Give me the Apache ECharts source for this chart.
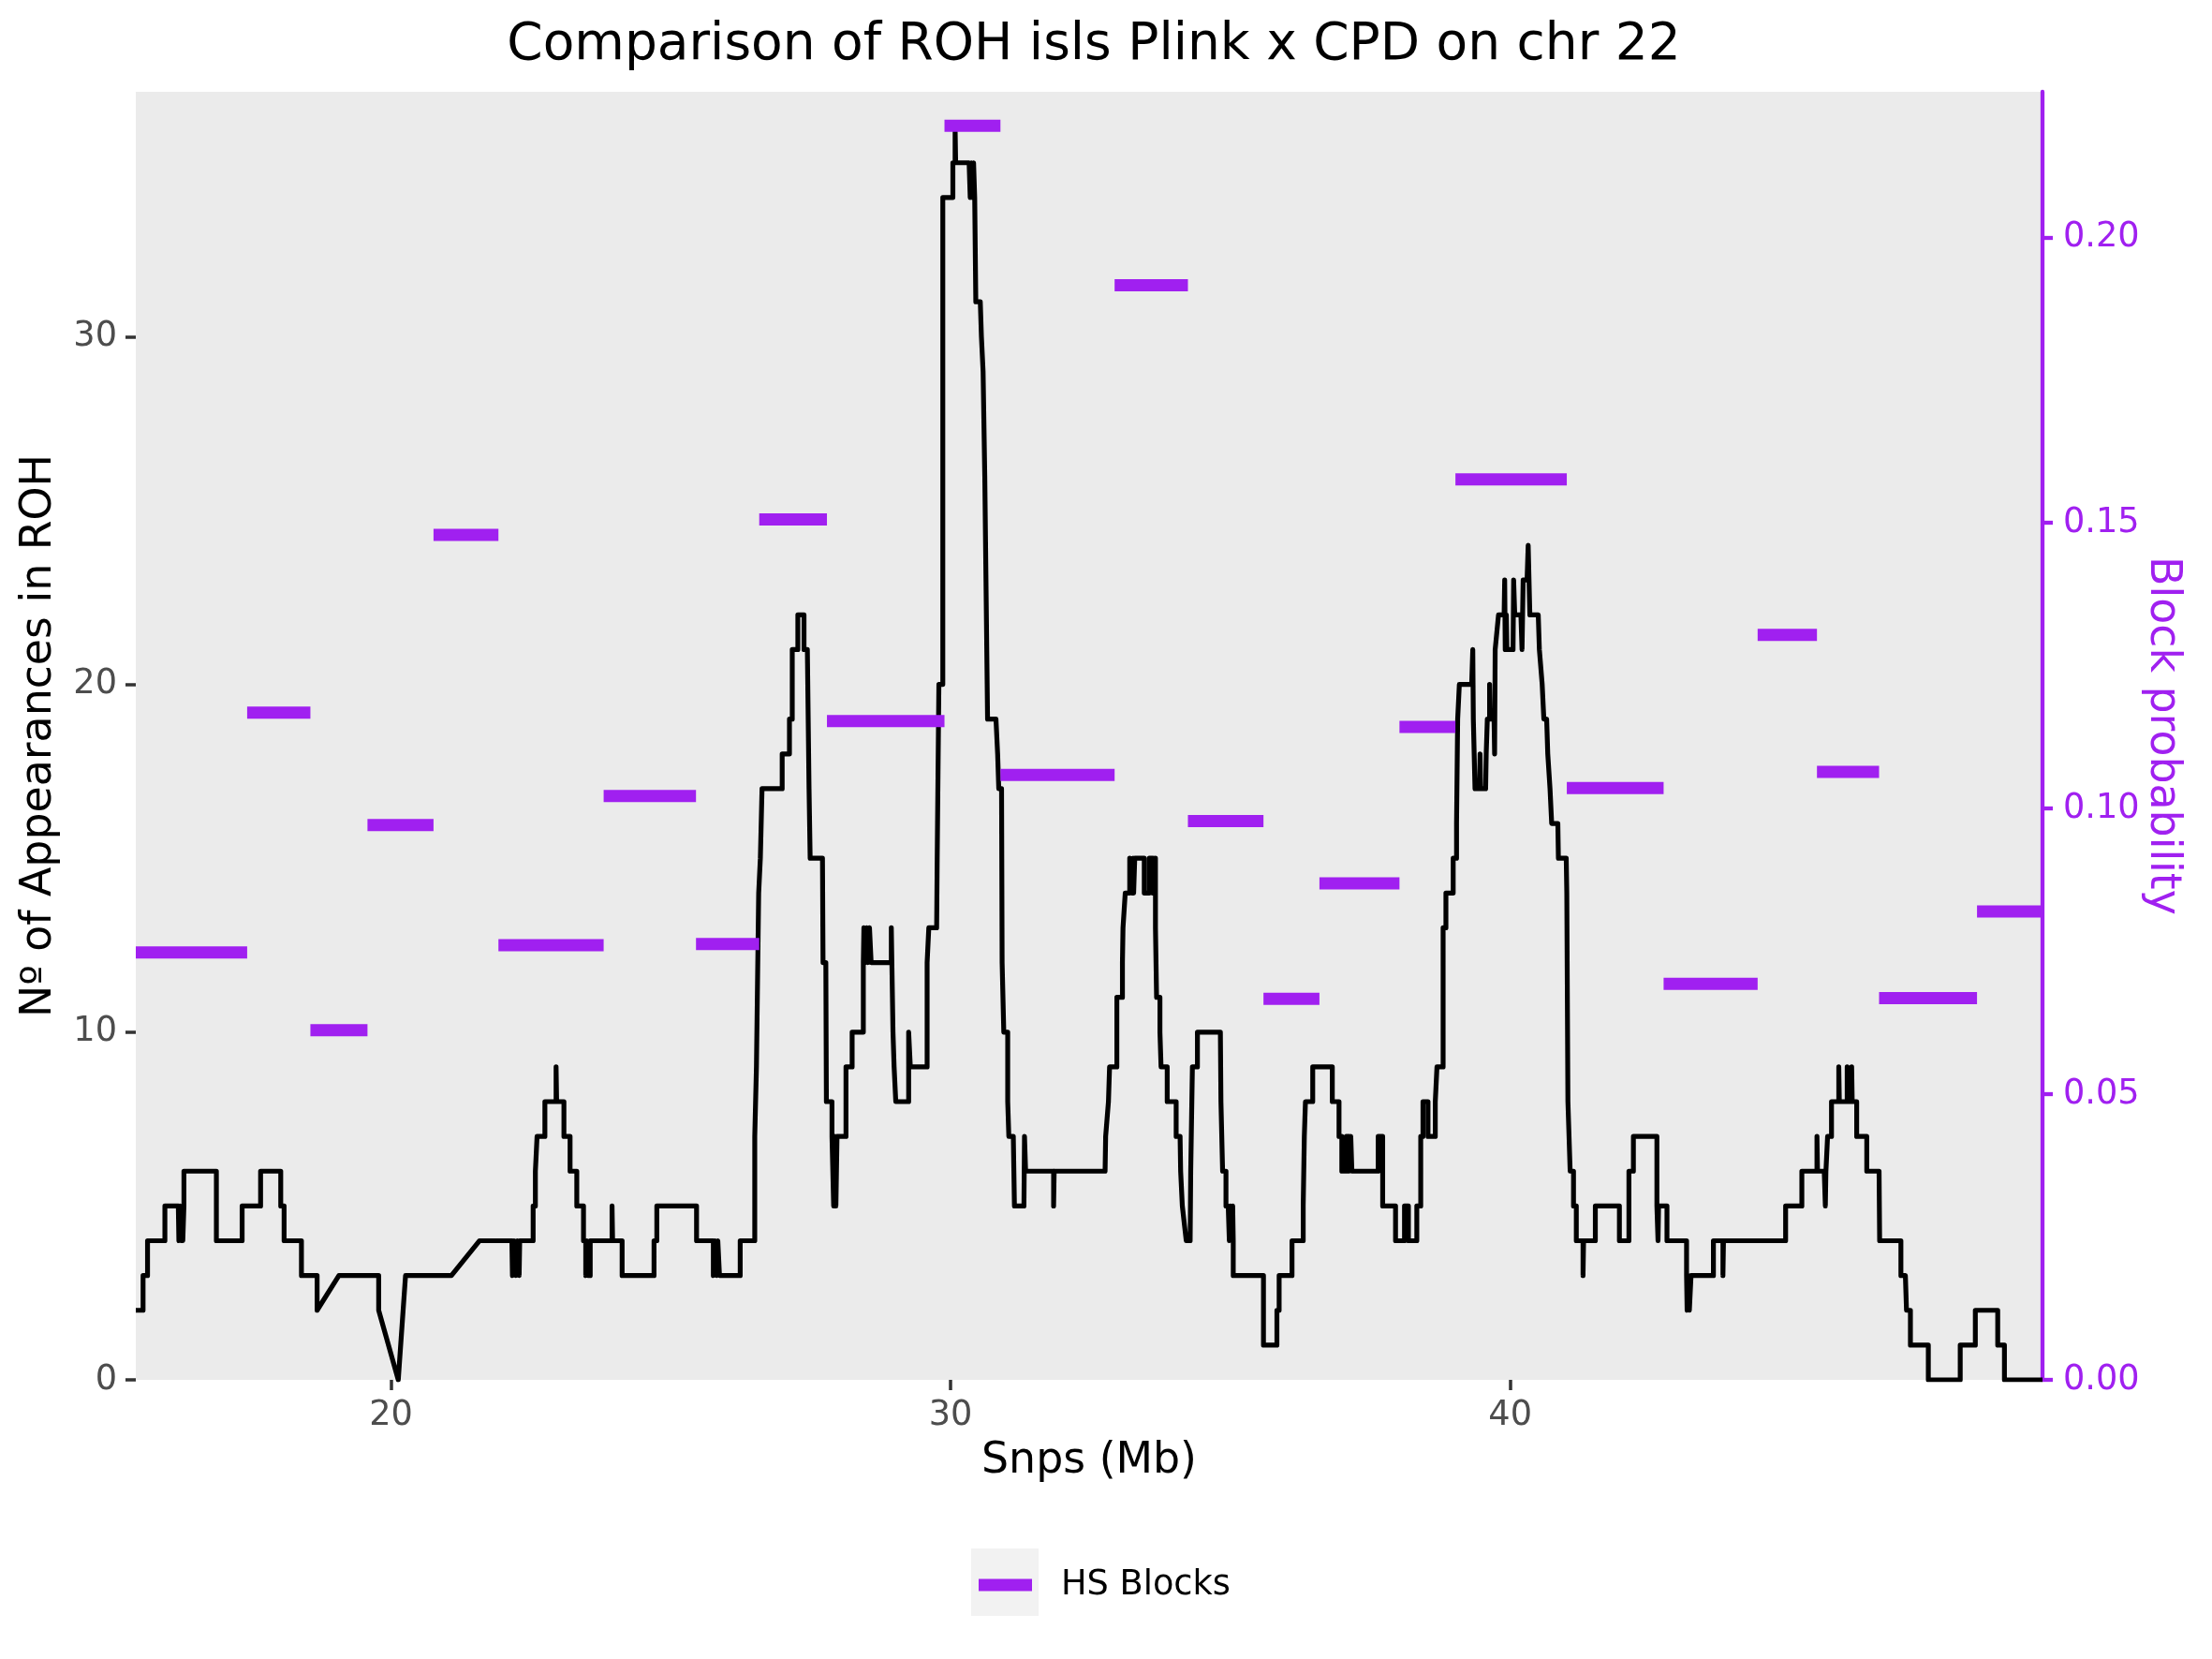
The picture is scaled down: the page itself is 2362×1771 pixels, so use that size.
<!DOCTYPE html>
<html lang="en">
<head>
<meta charset="UTF-8">
<title>Comparison of ROH isls Plink x CPD on chr 22</title>
<script src="https://cdn.jsdelivr.net/npm/echarts@6/dist/echarts.min.js"></script>
<style>
  * { margin: 0; padding: 0; }
  body { background: #fff; }
  #chart { width: 2362px; height: 1771px; }
</style>
</head>
<body>
<div id="chart"></div>
<script>
// ROH counts along chr 22: [position (Mb), number of individuals]
var roh_points = [
  [15.44,2],[15.57,2],[15.57,3],[15.65,3],[15.65,4],[15.96,4],[15.96,5],[16.20,5],[16.21,4],[16.23,5],
  [16.25,4],[16.27,5],[16.28,4],[16.30,5],[16.30,6],[16.88,6],[16.88,4],[17.34,4],[17.34,5],[17.67,5],
  [17.67,6],[18.03,6],[18.03,5],[18.09,5],[18.09,4],[18.40,4],[18.40,3],[18.68,3],[18.68,2],[19.07,3],
  [19.78,3],[19.78,2],[20.13,0],[20.26,3],[21.08,3],[21.58,4],[22.16,4],[22.17,3],[22.20,4],[22.23,3],
  [22.26,4],[22.29,3],[22.30,4],[22.54,4],[22.54,5],[22.58,5],[22.58,6],[22.61,6],[22.61,7],[22.75,7],
  [22.75,8],[22.95,8],[22.95,9],[22.96,8],[23.09,8],[23.09,7],[23.20,7],[23.20,6],[23.32,6],[23.32,5],
  [23.44,5],[23.44,4],[23.48,4],[23.48,3],[23.50,4],[23.52,3],[23.56,3],[23.56,4],[23.95,4],[23.95,5],
  [23.96,4],[24.13,4],[24.13,3],[24.70,3],[24.70,4],[24.75,4],[24.75,5],[25.46,5],[25.46,4],[25.76,4],
  [25.76,3],[25.79,4],[25.82,3],[25.84,4],[25.87,3],[26.24,3],[26.24,4],[26.50,4],[26.50,7],[26.53,9],
  [26.57,14],[26.60,15],[26.63,17],[26.99,17],[26.99,18],[27.12,18],[27.12,19],[27.17,19],[27.17,21],[27.27,21],
  [27.27,22],[27.38,22],[27.38,21],[27.44,21],[27.47,17],[27.49,15],[27.71,15],[27.72,12],[27.77,12],[27.78,8],
  [27.88,8],[27.88,7],[27.91,7],[27.91,5],[27.93,7],[27.95,5],[27.97,7],[28.13,7],[28.13,9],[28.24,9],
  [28.24,10],[28.44,10],[28.44,12],[28.45,13],[28.48,12],[28.50,13],[28.52,12],[28.55,13],[28.58,12],[28.94,12],
  [28.94,13],[28.95,12],[28.97,10],[28.99,9],[29.02,8],[29.25,8],[29.25,10],[29.28,9],[29.58,9],[29.58,12],
  [29.61,13],[29.75,13],[29.76,15],[29.79,20],[29.86,20],[29.86,34],[30.04,34],[30.04,35],[30.08,35],[30.08,36],
  [30.09,35],[30.33,35],[30.35,34],[30.37,35],[30.39,34],[30.41,35],[30.43,34],[30.45,34],[30.45,31],[30.53,31],
  [30.55,30],[30.58,29],[30.61,26],[30.66,19],[30.81,19],[30.84,18],[30.86,17],[30.91,17],[30.92,12],[30.95,10],
  [31.02,10],[31.02,8],[31.04,7],[31.12,7],[31.13,6],[31.14,5],[31.31,5],[31.32,7],[31.34,6],[31.84,6],
  [31.84,5],[31.85,6],[32.76,6],[32.77,7],[32.82,8],[32.84,9],[32.97,9],[32.97,11],[33.07,11],[33.07,12],
  [33.08,13],[33.12,14],[33.20,14],[33.20,15],[33.24,14],[33.26,15],[33.27,14],[33.29,15],[33.46,15],[33.46,14],
  [33.55,14],[33.55,15],[33.61,15],[33.61,14],[33.63,15],[33.65,14],[33.66,15],[33.66,13],[33.68,11],[33.74,11],
  [33.74,10],[33.76,9],[33.87,9],[33.87,8],[34.03,8],[34.03,7],[34.10,7],[34.11,6],[34.14,5],[34.21,4],
  [34.28,4],[34.29,6],[34.32,9],[34.41,9],[34.41,10],[34.82,10],[34.83,8],[34.86,6],[34.92,6],[34.92,5],
  [34.96,5],[34.98,4],[35.00,5],[35.02,4],[35.04,5],[35.05,4],[35.05,3],[35.59,3],[35.59,1],[35.83,1],
  [35.83,2],[35.87,2],[35.87,3],[36.10,3],[36.10,4],[36.30,4],[36.30,5],[36.32,7],[36.34,8],[36.47,8],
  [36.47,9],[36.82,9],[36.82,8],[36.94,8],[36.94,7],[36.99,7],[36.99,6],[37.07,6],[37.07,7],[37.12,7],
  [37.12,6],[37.15,7],[37.17,7],[37.17,6],[37.64,6],[37.64,7],[37.72,7],[37.72,5],[37.95,5],[37.95,4],
  [38.11,4],[38.11,5],[38.18,5],[38.18,4],[38.33,4],[38.33,5],[38.40,5],[38.40,7],[38.44,7],[38.44,8],
  [38.53,8],[38.53,7],[38.66,7],[38.66,8],[38.69,8],[38.69,9],[38.80,9],[38.80,13],[38.85,13],[38.85,14],
  [38.98,14],[38.98,15],[39.04,15],[39.04,16],[39.06,19],[39.09,20],[39.31,20],[39.33,21],[39.34,19],[39.37,17],
  [39.45,17],[39.46,18],[39.47,17],[39.56,17],[39.57,18],[39.59,19],[39.63,19],[39.63,20],[39.64,19],[39.71,19],
  [39.72,18],[39.73,21],[39.79,22],[39.89,22],[39.90,23],[39.91,21],[39.93,22],[39.94,21],[40.05,21],[40.06,23],
  [40.08,22],[40.19,22],[40.21,21],[40.23,23],[40.30,23],[40.32,24],[40.35,22],[40.50,22],[40.52,21],[40.57,20],
  [40.60,19],[40.65,19],[40.67,18],[40.71,17],[40.74,16],[40.85,16],[40.86,15],[41.00,15],[41.01,14],[41.03,8],
  [41.07,6],[41.13,6],[41.13,5],[41.18,5],[41.18,4],[41.30,4],[41.30,3],[41.31,4],[41.52,4],[41.52,5],
  [41.95,5],[41.95,4],[42.12,4],[42.12,6],[42.20,6],[42.20,7],[42.62,7],[42.62,5],[42.64,4],[42.65,5],
  [42.80,5],[42.80,4],[43.15,4],[43.15,3],[43.16,2],[43.18,3],[43.20,2],[43.23,3],[43.63,3],[43.63,4],
  [43.80,4],[43.80,3],[43.81,4],[44.92,4],[44.92,5],[45.21,5],[45.21,6],[45.48,6],[45.48,7],[45.49,6],
  [45.61,6],[45.63,5],[45.64,6],[45.67,7],[45.74,7],[45.74,8],[45.87,8],[45.87,9],[45.88,8],[46.02,8],
  [46.02,9],[46.03,8],[46.10,8],[46.10,9],[46.11,8],[46.19,8],[46.19,7],[46.37,7],[46.37,6],[46.59,6],
  [46.60,4],[46.98,4],[46.98,3],[47.06,3],[47.08,2],[47.15,2],[47.15,1],[47.47,1],[47.47,0],[48.04,0],
  [48.04,1],[48.31,1],[48.31,2],[48.71,2],[48.71,1],[48.83,1],[48.83,0],[49.51,0]
];

// HS blocks: start / end (Mb) and block probability
var block_start = [15.44, 17.43, 18.56, 19.58, 20.76, 21.92, 23.80, 25.45, 26.58, 27.79, 29.89, 30.89,
                   32.93, 34.24, 35.59, 36.59, 38.02, 39.02, 41.01, 42.74, 44.42, 45.48, 46.59, 48.34];
var block_end   = [17.43, 18.56, 19.58, 20.76, 21.92, 23.80, 25.45, 26.58, 27.79, 29.89, 30.89, 32.93,
                   34.24, 35.59, 36.59, 38.02, 39.02, 41.01, 42.74, 44.42, 45.48, 46.59, 48.34, 49.51];
var block_prob  = [0.0748, 0.1168, 0.0612, 0.0971, 0.1479, 0.0761, 0.1022, 0.0763, 0.1506, 0.1153, 0.2195, 0.1059,
                   0.1916, 0.0978, 0.0667, 0.0869, 0.1143, 0.1576, 0.1036, 0.0693, 0.1304, 0.1064, 0.0668, 0.0820];

var x_ticks = [20, 30, 40];
var count_ticks = [0, 10, 20, 30];
var prob_ticks = [0, 0.05, 0.10, 0.15, 0.20];

var purple = '#A020F0';
var chart = echarts.init(document.getElementById('chart'));

var series = [{
    name: 'ROH',
    type: 'line',
    data: roh_points,
    symbol: 'none',
    lineStyle: { color: '#000', width: 5.2, join: 'round' },
    itemStyle: { color: '#000' },
    z: 2,
    silent: true
}];
for (var i = 0; i < block_start.length; i++) {
    series.push({
        name: 'HS Blocks',
        type: 'line',
        yAxisIndex: 1,
        data: [[block_start[i], block_prob[i]], [block_end[i], block_prob[i]]],
        symbol: 'none',
        lineStyle: { color: purple, width: 13, cap: 'butt' },
        itemStyle: { color: purple },
        z: 3,
        silent: true
    });
}

var option = {
    animation: false,
    textStyle: { fontFamily: 'DejaVu Sans' },
    title: {
        text: 'Comparison of ROH isls Plink x CPD on chr 22',
        left: 1163,
        top: 16,
        textAlign: 'center',
        textStyle: { fontSize: 55, fontWeight: 'normal', color: '#000', fontFamily: 'DejaVu Sans' }
    },
    legend: {
        data: ['HS Blocks'],
        left: 1045,
        top: 1670,
        padding: 0,
        icon: 'rect',
        itemWidth: 57,
        itemHeight: 13,
        textStyle: { fontSize: 36.7, color: '#000', lineHeight: 44, padding: [0, 0, 0, 26], fontFamily: 'DejaVu Sans' }
    },
    graphic: [{
        type: 'rect',
        shape: { x: 1037, y: 1653, width: 72, height: 72 },
        style: { fill: '#F2F2F2' },
        z: -10
    }],
    grid: {
        left: 145, right: 181, top: 98, bottom: 298,
        show: true, backgroundColor: '#EBEBEB', borderWidth: 0
    },
    xAxis: {
        type: 'value',
        min: 15.44, max: 49.51,
        name: 'Snps (Mb)',
        nameLocation: 'middle',
        nameGap: 64,
        nameTextStyle: { fontSize: 45.8, color: '#000', fontFamily: 'DejaVu Sans' },
        axisLine: { show: false },
        splitLine: { show: false },
        axisTick: { show: true, length: 11, lineStyle: { color: '#333', width: 3.5 }, customValues: x_ticks },
        axisLabel: { fontSize: 36.7, color: '#4D4D4D', margin: 20, customValues: x_ticks }
    },
    yAxis: [{
        type: 'value',
        min: 0, max: 37.04,
        name: 'Nº of Appearances in ROH',
        nameLocation: 'middle',
        nameGap: 80,
        nameTextStyle: { fontSize: 45.8, color: '#000', fontFamily: 'DejaVu Sans' },
        axisLine: { show: false },
        splitLine: { show: false },
        axisTick: { show: true, length: 11, lineStyle: { color: '#333', width: 3.5 }, customValues: count_ticks },
        axisLabel: { fontSize: 36.7, color: '#4D4D4D', margin: 20, customValues: count_ticks }
    }, {
        type: 'value',
        position: 'right',
        min: 0, max: 0.22546,
        name: 'Block probability',
        nameLocation: 'middle',
        nameRotate: -90,
        nameGap: 105,
        nameMoveOverlap: false,
        nameTextStyle: { fontSize: 45.8, color: purple, fontFamily: 'DejaVu Sans' },
        axisLine: { show: true, lineStyle: { color: purple, width: 4.3 } },
        splitLine: { show: false },
        axisTick: { show: true, length: 11, lineStyle: { color: purple, width: 4.3 }, customValues: prob_ticks },
        axisLabel: {
            fontSize: 36.7, color: purple, margin: 22, customValues: prob_ticks,
            formatter: function (v) { return v.toFixed(2); }
        }
    }],
    series: series
};
chart.setOption(option);
</script>
</body>
</html>
